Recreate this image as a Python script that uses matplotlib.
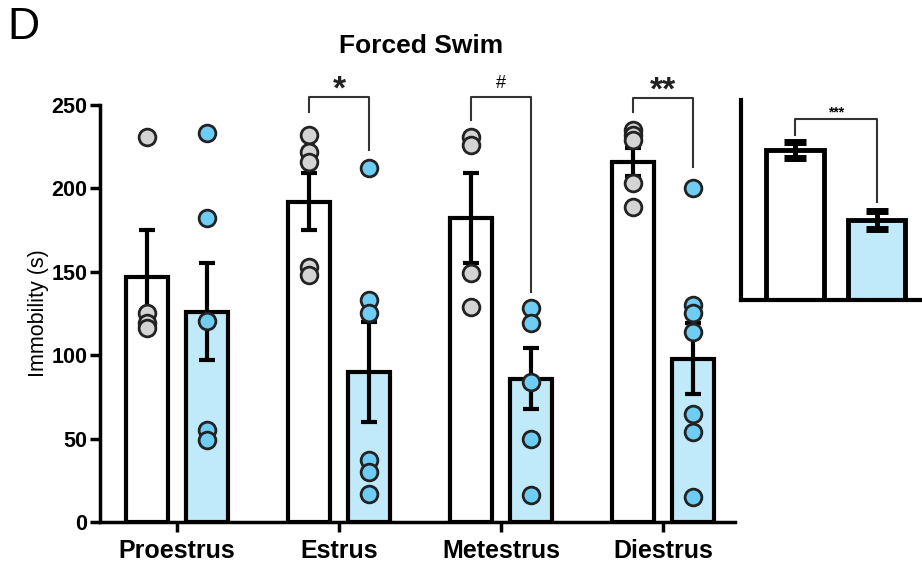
import numpy as np
import matplotlib.pyplot as plt

plt.rcParams['font.family'] = ['Liberation Sans', 'DejaVu Sans']

# data
phases = ['Proestrus', 'Estrus', 'Metestrus', 'Diestrus']

white_pts = [
    [230.6, 125.5, 119, 116],
    [232, 222, 216, 153, 148],
    [231, 226, 149, 129],
    [235, 232, 229, 203, 189],
]
blue_pts = [
    [233, 182, 120.7, 55, 49],
    [212, 133, 125, 37, 30, 17],
    [128, 119, 84, 50, 16],
    [200, 130, 125, 114, 65, 54, 15],
]
white_mean = [147, 192, 182, 216]
white_sem = [28, 17, 27, 8.5]
blue_mean = [126, 90, 86, 98]
blue_sem = [29, 30, 18.5, 21]

# pooled inset
inset_mean = [187, 100]
inset_sem = [10, 11]

# brackets: (group, bar height, left leg end, right leg end, label)
brackets = [
    (1, 254.5, 246, 223, '*'),
    (2, 255, 241, 138, '#'),
    (3, 254, 246, 213, '**'),
]

bar_blue = '#C0E9F9'
pt_blue = '#6FCCF2'
pt_grey = '#D4D4D4'

fig = plt.figure(figsize=(9.22, 5.62), dpi=100)
ax = fig.add_axes([0.1085, 0.0712, 0.689, 0.742])

x = np.arange(len(phases))
off = 0.185
w = 0.26

ax.bar(x - off, white_mean, w, color='white', edgecolor='black', linewidth=3, zorder=2)
ax.bar(x + off, blue_mean, w, color=bar_blue, edgecolor='black', linewidth=3, zorder=2)
ax.errorbar(x - off, white_mean, yerr=white_sem, fmt='none', ecolor='black',
            elinewidth=3, capsize=6, capthick=3, zorder=3)
ax.errorbar(x + off, blue_mean, yerr=blue_sem, fmt='none', ecolor='black',
            elinewidth=3, capsize=6, capthick=3, zorder=3)

for i in range(len(phases)):
    ax.scatter(np.full(len(white_pts[i]), x[i] - off), white_pts[i], s=145,
               color=pt_grey, edgecolor='#222222', linewidth=2, zorder=4)
    ax.scatter(np.full(len(blue_pts[i]), x[i] + off), blue_pts[i], s=145,
               color=pt_blue, edgecolor='#222222', linewidth=2, zorder=4)

for g, top, yl, yr, lab in brackets:
    ax.plot([x[g] - off, x[g] - off, x[g] + off, x[g] + off], [yl, top, top, yr],
            color='#333333', linewidth=1.5, clip_on=False, zorder=5)
    if lab == '#':
        ax.text(x[g], top + 3, lab, ha='center', va='bottom', fontsize=13, clip_on=False)
    else:
        ax.text(x[g], top - 5, lab, ha='center', va='bottom', fontsize=24,
                fontweight='bold', color='#222222', clip_on=False)

ax.set_xlim(-0.475, 3.444)
ax.set_ylim(0, 250)
ax.set_yticks([0, 50, 100, 150, 200, 250])
ax.set_xticks(x)
ax.set_xticklabels(phases, fontsize=18, fontweight='bold')
ax.tick_params(axis='y', labelsize=15.5, width=2.5, length=7, pad=2)
ax.tick_params(axis='x', width=2.5, length=7, pad=5)
for lab in ax.get_yticklabels():
    lab.set_fontweight('bold')
ax.set_ylabel('Immobility (s)', fontsize=15.5, labelpad=2)
for s in ['top', 'right']:
    ax.spines[s].set_visible(False)
for s in ['left', 'bottom']:
    ax.spines[s].set_linewidth(2.5)

# inset with pooled data
ax2 = fig.add_axes([0.8037, 0.4662, 0.196, 0.356])
xi = np.array([0, 1])
ax2.bar(xi, inset_mean, 0.7, color=['white', bar_blue], edgecolor='black', linewidth=3.5, zorder=2)
ax2.errorbar(xi, inset_mean, yerr=inset_sem, fmt='none', ecolor='black',
             elinewidth=3.5, capsize=8, capthick=5, zorder=3)
ax2.plot([0, 0, 1, 1], [206, 226, 226, 123], color='#333333', linewidth=1.5, zorder=4)
ax2.text(0.5, 226, '***', ha='center', va='bottom', fontsize=10, fontweight='bold')
ax2.set_xlim(-0.66, 1.55)
ax2.set_ylim(0, 250)
ax2.set_xticks([])
ax2.set_yticks([])
for s in ['top', 'right']:
    ax2.spines[s].set_visible(False)
for s in ['left', 'bottom']:
    ax2.spines[s].set_linewidth(3)

fig.text(0.457, 0.905, 'Forced Swim', ha='center', fontsize=19, fontweight='bold')
fig.text(0.008, 0.93, 'D', fontsize=32)

fig.savefig('out.png', dpi=100)
